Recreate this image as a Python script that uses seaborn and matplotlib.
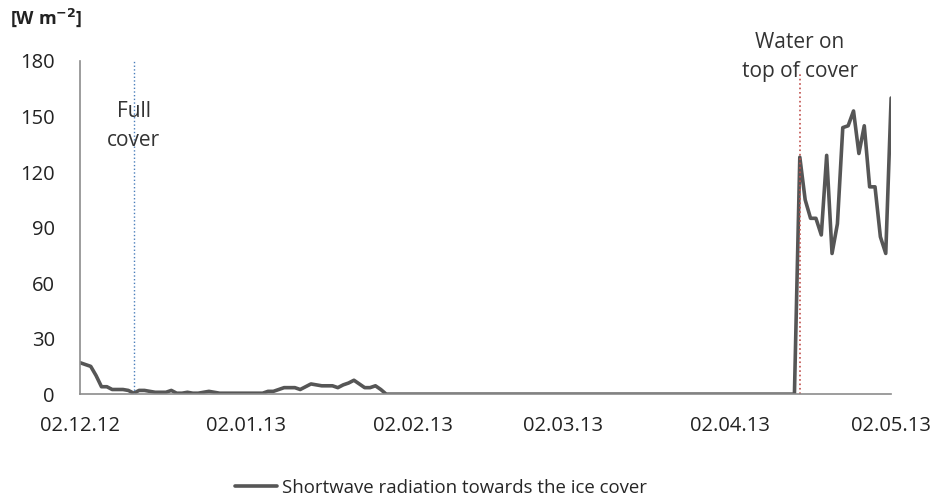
import matplotlib
matplotlib.use("Agg")
import matplotlib.pyplot as plt
import matplotlib.dates as mdates
import seaborn as sns
import pandas as pd

# daily shortwave radiation towards the ice cover [W m-2], 02.12.12 - 02.05.13
start_date = "2012-12-02"
radiation = [
    17, 16, 15, 10, 4, 4, 2.5, 2.5, 2.5, 2,
    0.5, 2, 2, 1.5, 1, 1, 1, 2, 0.5, 0.5,
    1, 0.5, 0.5, 1, 1.5, 1, 0.5, 0.5, 0.5, 0.5,
    0.5, 0.5, 0.5, 0.5, 0.5, 1.5, 1.5, 2.5, 3.5, 3.5,
    3.5, 2.5, 4, 5.5, 5, 4.5, 4.5, 4.5, 3.5, 5,
    6, 7.5, 5.5, 3.5, 3.5, 4.5, 2.5, 0, 0, 0,
    0, 0, 0, 0, 0, 0, 0, 0, 0, 0,
    0, 0, 0, 0, 0, 0, 0, 0, 0, 0,
    0, 0, 0, 0, 0, 0, 0, 0, 0, 0,
    0, 0, 0, 0, 0, 0, 0, 0, 0, 0,
    0, 0, 0, 0, 0, 0, 0, 0, 0, 0,
    0, 0, 0, 0, 0, 0, 0, 0, 0, 0,
    0, 0, 0, 0, 0, 0, 0, 0, 0, 0,
    0, 0, 0, 0, 128, 105, 95, 95, 86, 129,
    76, 92, 144, 145, 153, 130, 145, 112, 112, 85,
    76, 160,
]
tick_dates = ["2012-12-02", "2013-01-02", "2013-02-02", "2013-03-02", "2013-04-02", "2013-05-02"]
full_cover_date = "2012-12-12"
water_on_top_date = "2013-04-15"

df = pd.DataFrame({
    "date": pd.date_range(start_date, periods=len(radiation), freq="D"),
    "value": radiation,
})

sns.set_style("white")
plt.rcParams["font.family"] = ["Open Sans", "DejaVu Sans"]

fig, ax = plt.subplots(figsize=(9.41, 5.04), dpi=100)
fig.subplots_adjust(left=0.085, right=0.947, bottom=0.218, top=0.879)

sns.lineplot(data=df, x="date", y="value", ax=ax, color="#565656", lw=2.6,
             label="Shortwave radiation towards the ice cover", legend=False)

ax.axvline(pd.Timestamp(full_cover_date), color="#4a7ebb", ls=":", lw=1)
ax.axvline(pd.Timestamp(water_on_top_date), ymax=0.96, color="#c0504d", ls=":", lw=1.2)

ax.set_xlim(pd.Timestamp(tick_dates[0]), pd.Timestamp(tick_dates[-1]))
ax.set_ylim(0, 180)
ax.set_yticks(range(0, 181, 30))
ax.set_xticks(pd.to_datetime(tick_dates))
ax.xaxis.set_major_formatter(mdates.DateFormatter("%d.%m.%y"))
ax.set_xlabel("")
ax.set_ylabel("")

for side in ["top", "right"]:
    ax.spines[side].set_visible(False)
for side in ["left", "bottom"]:
    ax.spines[side].set_color("#8c8c8c")
    ax.spines[side].set_linewidth(1.2)
ax.tick_params(axis="both", direction="out", length=6, width=1, color="#8c8c8c",
               labelsize=14.5, labelcolor="#222222")
ax.tick_params(axis="x", pad=10)
ax.tick_params(axis="y", pad=12)

ax.text(pd.Timestamp(full_cover_date), 145, "Full\ncover", ha="center", va="center",
        fontsize=15, color="#333333", linespacing=1.5)
ax.text(pd.Timestamp(water_on_top_date), 182, "Water on\ntop of cover", ha="center", va="center",
        fontsize=15, color="#333333", linespacing=1.5, clip_on=False)

fig.text(0.011, 0.964, r"[W m$^{\mathbf{-2}}$]", fontsize=13, fontweight="bold",
         color="#222222", va="center", ha="left")

fig.legend(loc="center", bbox_to_anchor=(0.469, 0.032), frameon=False, fontsize=13.4,
           handlelength=2.25, handletextpad=0.27)

fig.savefig("out.png", dpi=100)
